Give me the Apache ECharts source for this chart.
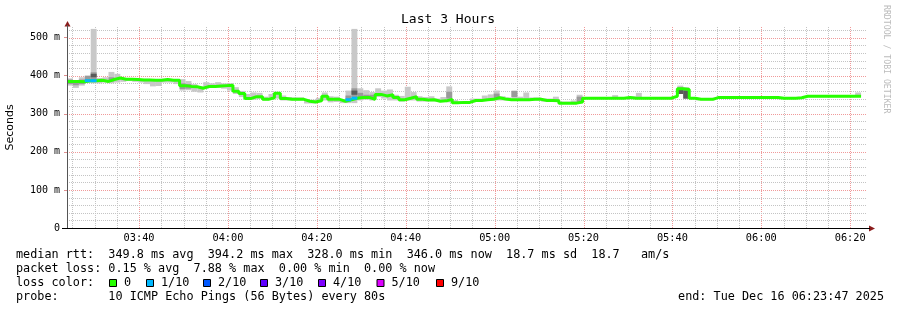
<!DOCTYPE html>
<html><head><meta charset="utf-8">
<script src="https://cdn.jsdelivr.net/npm/echarts@6/dist/echarts.min.js"></script>
<style>html,body{margin:0;padding:0;background:#fff}#c{width:897px;height:310px}</style>
</head><body><div id="c"></div>
<script>
// ---------- data ----------
const startTime = '03:23:47';
const endTime = '06:23:47';
const stepSeconds = 80;
const tickLabels = ['03:40','04:00','04:20','04:40','05:00','05:20','05:40','06:00','06:20'];
const yTickValues = [0,100,200,300,400,500];

// median rtt per 80 s step (ms)
const medianMs = [
385,385,384,387,387,388,385,390,394,391,
391,390,389,389,388,388,390,388,388,374,
372,371,367,372,372,373,374,375,359,353,
340,345,345,338,342,354,340,338,338,338,
333,331,335,346,338,338,333,337,341,343,
343,338,351,347,350,343,337,341,345,338,
336,337,333,334,338,329,330,330,335,335,
337,338,342,339,337,337,337,337,338,338,
335,335,334,328,328,328,331,341,341,341,
341,341,341,341,343,341,341,341,341,341,
341,341,346,366,364,341,338,338,338,343,
343,343,343,343,343,343,343,343,343,343,
341,341,341,342,346,346,346,346,346,346,
346,346,346,346];
// lost pings out of 10, per step (only non-zero steps listed)
const lossSteps = [3,4,47,48];
const lossCount = [1,1,1,1];
// smoke: lowest and highest ping per step (ms)
const smokeMin = [
374,368,374,382,380,380,382,380,382,384,
386,384,382,378,372,373,382,382,378,361,
362,358,356,366,368,368,366,361,352,344,
337,337,339,335,338,340,335,335,335,335,
327,327,330,335,330,331,328,328,328,335,
337,335,344,340,335,335,332,335,335,332,
332,333,332,332,330,326,326,326,332,332,
335,335,335,335,335,335,335,335,335,335,
332,332,332,326,326,326,331,341,341,341,
341,341,341,341,343,341,341,341,341,341,
341,341,346,352,340,341,338,338,338,343,
343,343,343,343,343,343,343,343,343,343,
341,341,341,342,346,346,346,346,346,346,
346,346,346,346];
const smokeMax = [
393,387,396,400,523,394,396,410,405,394,
393,393,392,392,390,390,392,390,390,391,
386,378,372,383,380,383,380,380,370,360,
352,356,355,345,352,357,348,344,343,343,
338,337,342,356,346,345,338,361,523,367,
362,357,367,361,364,350,347,371,357,346,
344,346,340,344,372,336,333,333,340,340,
348,351,361,346,343,361,345,356,343,343,
340,340,345,332,332,335,350,341,341,341,
341,341,349,341,343,346,355,341,341,341,
341,341,346,374,370,341,338,338,338,343,
343,343,343,343,343,343,343,343,343,343,
341,341,341,342,346,346,346,346,346,346,
346,346,346,356];
// inner (denser) smoke bands
const coreSteps = [0,1,2,3,4,7,19,20,47,48,49,50,51,64,72,75,86,103,104];
const coreMin   = [378,375,378,388,388,385,365,366,335,344,340,340,340,340,340,344,331,352,340];
const coreMax   = [390,385,390,400,409,396,380,378,348,367,355,350,350,358,353,360,345,369,364];
const darkSteps = [4,48,103,104];
const darkMin   = [396,350,352,340];
const darkMax   = [405,361,363,361];

const lossLabels = ['0','1/10','2/10','3/10','4/10','5/10','9/10'];
const lossColors = ['#26ff00','#00b8ff','#0059ff','#5e00ff','#7e00ff','#dd00ff','#ff0000'];
const lossLevels = [0,1,2,3,4,5,9];

const statLines = [
  'median rtt:  349.8 ms avg  394.2 ms max  328.0 ms min  346.0 ms now  18.7 ms sd  18.7   am/s',
  'packet loss: 0.15 % avg  7.88 % max  0.00 % min  0.00 % now',
  'loss color:',
  'probe:       10 ICMP Echo Pings (56 Bytes) every 80s'
];
const endLabel = 'end: Tue Dec 16 06:23:47 2025';
const titleText = 'Last 3 Hours';

// ---------- helpers ----------
function toSec(s){const p=s.split(':').map(Number);return p[0]*3600+p[1]*60+(p[2]||0);}
function fmt(sec){const h=Math.floor(sec/3600), m=Math.floor(sec%3600/60);return String(h).padStart(2,'0')+':'+String(m).padStart(2,'0');}
const tStart = toSec(startTime), tEnd = toSec(endTime);
const stepT = i => tStart + i*stepSeconds;
const MONO = '"DejaVu Sans Mono", monospace';

function colorForLoss(n){const k=lossLevels.indexOf(n);return lossColors[k>=0?k:lossColors.length-1];}

// grid lines (drawn through the axes' scales)
const majorV = tickLabels.map(toSec);
const gridData = [];
for (let t = Math.ceil(tStart/300)*300; t < tEnd; t += 300) gridData.push([t, 0, 0, majorV.includes(t) ? 1 : 0]);
for (let v = 20; v <= 520; v += 20) gridData.push([tStart, v, 1, v % 100 === 0 ? 1 : 0]);
const minorColor = '#c4c4c4';
const majorColor = '#f09a9a';

// smoke series builder
function rectSeries(steps, lo, hi, color, z){
  const data = steps.map((s,k)=>[stepT(s), stepT(s+1), lo[k], hi[k]]);
  return {
    type:'custom', z, silent:true, clip:true, data,
    renderItem(params, api){
      const a = api.coord([api.value(0), api.value(3)]);
      const b = api.coord([api.value(1), api.value(2)]);
      return {type:'rect', shape:{x:a[0], y:a[1], width:b[0]-a[0], height:Math.max(1,b[1]-a[1])}, style:{fill:color}};
    }
  };
}
const allSteps = medianMs.map((_,i)=>i);

const medianLine = medianMs.map((v,i)=>[stepT(i), v]);
medianLine.push([stepT(medianMs.length), medianMs[medianMs.length-1]]);

const lossData = lossSteps.map((s,k)=>[stepT(s), stepT(s+1), medianMs[s], lossCount[k]]);

// ---------- chart ----------
const chart = echarts.init(document.getElementById('c'), null, {renderer:'canvas'});
const graphic = [];
graphic.push({type:'text', x:448, y:20, style:{text:titleText, font:'13px '+MONO, fill:'#000', align:'center', verticalAlign:'middle'}});
graphic.push({type:'text', x:886, y:5, rotation:-Math.PI/2, style:{text:'RRDTOOL / TOBI OETIKER', font:'8.2px '+MONO, fill:'#bbbbbb', align:'left', verticalAlign:'middle'}});
const lineY = [254.7, 268.5, 282.5, 296.5];
statLines.forEach((t,k)=>graphic.push({type:'text', x:16, y:lineY[k], style:{text:t, font:'11.8px '+MONO, fill:'#000', align:'left', verticalAlign:'middle'}}));
graphic.push({type:'text', x:884, y:lineY[3], style:{text:endLabel, font:'11.8px '+MONO, fill:'#000', align:'right', verticalAlign:'middle'}});
const boxX = [109, 146, 203, 260, 318, 376.5, 436];
lossLabels.forEach((lab,k)=>{
  graphic.push({type:'rect', shape:{x:boxX[k]+0.5, y:279.5, width:7, height:7}, style:{fill:lossColors[k], stroke:'#000', lineWidth:1}});
  graphic.push({type:'text', x:boxX[k]+15, y:lineY[2], style:{text:lab, font:'11.8px '+MONO, fill:'#000', align:'left', verticalAlign:'middle'}});
});
// axis arrows / extensions
graphic.push({type:'line', z:100, shape:{x1:62, y1:228.5, x2:870, y2:228.5}, style:{stroke:'#000', lineWidth:1}});
graphic.push({type:'line', z:100, shape:{x1:67.5, y1:228, x2:67.5, y2:25}, style:{stroke:'#555', lineWidth:1}});
graphic.push({type:'polygon', shape:{points:[[64.5,26.5],[70.5,26.5],[67.5,21]]}, style:{fill:'#8b1c1c'}});
graphic.push({type:'polygon', shape:{points:[[869,225.5],[869,231.5],[875,228.5]]}, style:{fill:'#8b1c1c'}});

chart.setOption({
  animation:false,
  backgroundColor:'#fff',
  grid:{left:67, right:30, top:27, bottom:82, containLabel:false, outerBoundsMode:'none'},
  xAxis:{
    type:'value', min:tStart, max:tEnd,
    axisLine:{show:false}, axisTick:{show:false}, splitLine:{show:false},
    axisLabel:{customValues:majorV, formatter:v=>fmt(v), fontFamily:MONO, fontSize:10.3, color:'#000', margin:5}
  },
  yAxis:{
    type:'value', min:0, max:528,
    name:'Seconds', nameLocation:'middle', nameRotate:90, nameGap:51,
    nameTextStyle:{fontFamily:'"DejaVu Sans", sans-serif', fontSize:11, color:'#000'},
    axisLine:{show:false}, splitLine:{show:false},
    axisTick:{show:true, customValues:yTickValues, length:3, lineStyle:{color:'#e09090'}},
    axisLabel:{customValues:yTickValues, formatter:v=>v===0?'0':v+' m', fontFamily:MONO, fontSize:10, color:'#000', margin:7}
  },
  graphic,
  series:[
    {type:'custom', z:1, silent:true, clip:false, data:gridData,
     renderItem(params, api){
       const cs = params.coordSys;
       const p = api.coord([api.value(0), api.value(1)]);
       const horiz = api.value(2) === 1;
       const col = api.value(3) === 1 ? majorColor : minorColor;
       let shape;
       if (horiz) { const y = Math.round(p[1]) + 0.5; shape = {x1:cs.x, y1:y, x2:cs.x+cs.width, y2:y}; }
       else { const x = Math.round(p[0]) + 0.5; shape = {x1:x, y1:cs.y, x2:x, y2:cs.y+cs.height}; }
       return {type:'line', shape, style:{stroke:col, lineWidth:1, lineDash:[1,1]}};
     }},
    rectSeries(allSteps, smokeMin, smokeMax, '#c8c8c8', 2),
    rectSeries(coreSteps, coreMin, coreMax, '#9a9a9a', 3),
    rectSeries(darkSteps, darkMin, darkMax, '#5a5a5a', 4),
    {type:'line', data:medianLine, step:'end', showSymbol:false, symbol:'none', z:5, silent:true,
     lineStyle:{color:lossColors[0], width:3}},
    {type:'custom', z:6, silent:true, data:lossData,
     renderItem(params, api){
       const a = api.coord([api.value(0), api.value(2)]);
       const b = api.coord([api.value(1), api.value(2)]);
       return {type:'line', shape:{x1:a[0], y1:a[1], x2:b[0], y2:b[1]}, style:{stroke:colorForLoss(api.value(3)), lineWidth:3}};
     }}
  ]
});
</script></body></html>
